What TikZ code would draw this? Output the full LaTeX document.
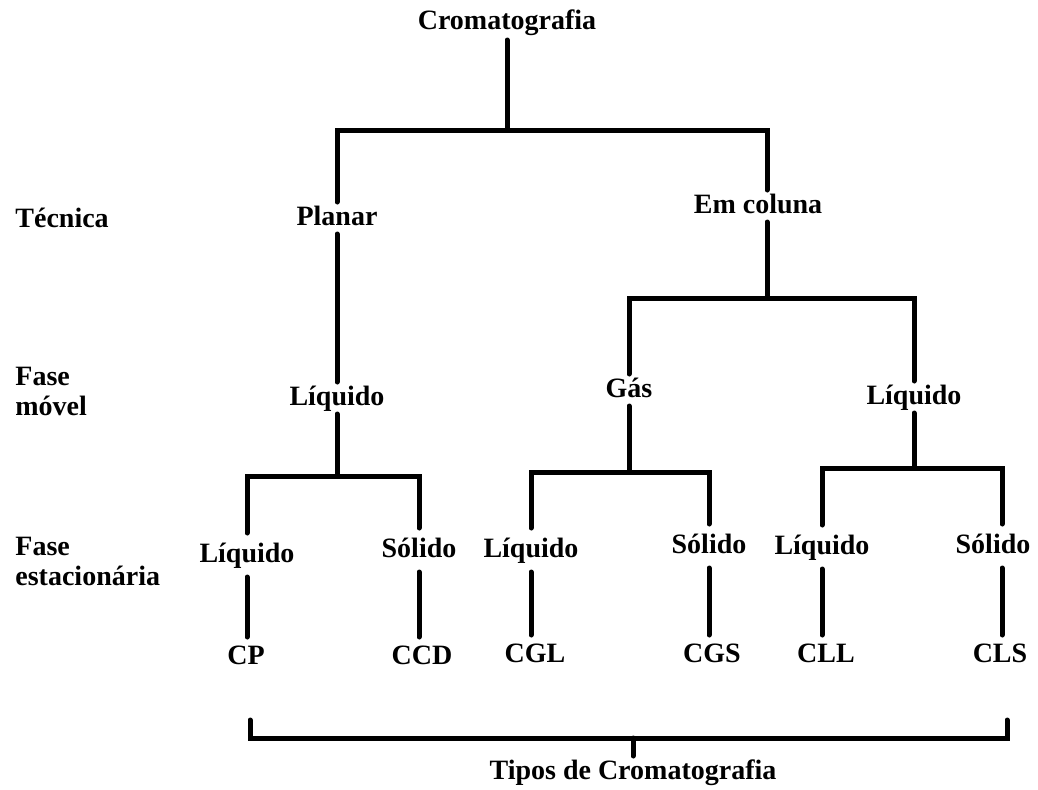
\documentclass[tikz,border=0pt]{standalone}
\usepackage{fontspec}
\setmainfont{Liberation Serif}
\usepackage{tikz}
\usetikzlibrary{positioning}

\begin{document}
\begin{tikzpicture}[
    x=0.5pt, y=-0.5pt,
    lbl/.style={font=\bfseries\fontsize{14}{15}\selectfont, inner sep=0pt, text height=10pt, text depth=3pt},
    mid/.style={lbl, outer sep=1.5pt},
    leaf/.style={lbl, outer sep=4.5pt},
    side/.style={font=\bfseries\fontsize{14}{15}\selectfont, inner sep=0pt, anchor=west, align=left},
    tree/.style={line width=2.5pt, line cap=round, line join=miter}
]
    \useasboundingbox (0,0) rectangle (1038,789);

    % Row labels
    \node[side] (tec) at (15,218) {Técnica};
    \node[side] (fmov) at (15,391) {Fase\\móvel};
    \node[side] (fest) at (15,561) {Fase\\estacionária};

    % Root and technique
    \node[lbl, outer sep=2.5pt] (crom) at (507,22) {Cromatografia};
    \node[mid] (planar) at (337,218) {Planar};
    \node[mid] (emcol) at (758,206) {Em coluna};
    \coordinate (bar1) at (507,130);
    \draw[tree] (crom.south) -- (bar1);
    \draw[tree] (planar.north) |- (bar1) -| ([xshift=4.5pt]emcol.north);

    % Mobile phase
    \node[mid] (liqp) at (337,398) {Líquido};
    \node[mid] (gas) at (629,390) {Gás};
    \node[mid] (liqc) at (914,397) {Líquido};
    \draw[tree] (planar.south) -- (liqp.north);
    \coordinate (bar3) at (767,298);
    \draw[tree] ([xshift=4.5pt]emcol.south) -- (bar3);
    \draw[tree] (gas.north) |- (bar3) -| (liqc.north);

    % Stationary phase
    \node[leaf] (lp) at (247,555) {Líquido};
    \node[leaf] (sp) at (419,550) {Sólido};
    \node[leaf] (lg) at (531,550) {Líquido};
    \node[leaf] (sg) at (709,546) {Sólido};
    \node[leaf] (ll) at (822,547) {Líquido};
    \node[leaf] (sl) at (993,546) {Sólido};
    \coordinate (bar2) at (337,476);
    \coordinate (bar4) at (629,472);
    \coordinate (bar5) at (914,468);
    \draw[tree] (liqp.south) -- (bar2);
    \draw[tree] (lp.north) |- (bar2) -| (sp.north);
    \draw[tree] (gas.south) -- (bar4);
    \draw[tree] (lg.north) |- (bar4) -| (sg.north);
    \draw[tree] (liqc.south) -- (bar5);
    \draw[tree] (ll.north) |- (bar5) -| ([xshift=4.5pt]sl.north);

    % Types
    \node[lbl, outer sep=3.5pt] (cp) at (246,657) {CP};
    \node[lbl, outer sep=3.5pt] (ccd) at (422,657) {CCD};
    \node[lbl, outer sep=3.5pt] (cgl) at (535,655) {CGL};
    \node[lbl, outer sep=3.5pt] (cgs) at (712,655) {CGS};
    \node[lbl, outer sep=3.5pt] (cll) at (826,655) {CLL};
    \node[lbl, outer sep=3.5pt] (cls) at (1000,655) {CLS};
    \draw[tree] (lp.south) -- (lp.south |- cp.north);
    \draw[tree] (sp.south) -- (sp.south |- ccd.north);
    \draw[tree] (lg.south) -- (lg.south |- cgl.north);
    \draw[tree] (sg.south) -- (sg.south |- cgs.north);
    \draw[tree] (ll.south) -- (ll.south |- cll.north);
    \draw[tree] ([xshift=4.5pt]sl.south) -- ([xshift=4.5pt]sl.south |- cls.north);

    % Bracket
    \node[mid] (tipos) at (633,772) {Tipos de Cromatografia};
    \coordinate (brl) at (250,720);
    \coordinate (brr) at (1007,720);
    \coordinate (brm) at (633,738);
    \draw[tree] (brl) |- (brm) -| (brr);
    \draw[tree] (brm) -- (tipos.north);
\end{tikzpicture}
\end{document}
